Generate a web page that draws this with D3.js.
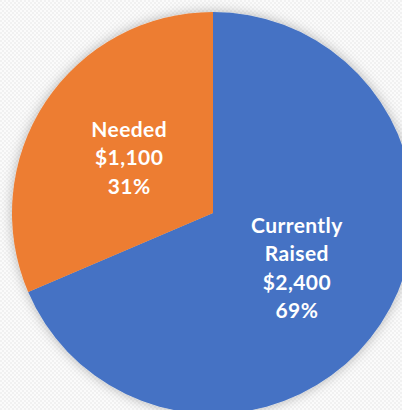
<!DOCTYPE html>
<html lang="en">
  <head>
    <meta charset="UTF-8">
    <title>Fundraising Pie</title>
    <style>
      body { margin: 0; background: #fff; }
      .label {
        fill: #fff;
        font-family: Lato, "Open Sans", sans-serif;
        font-weight: bold;
        font-size: 21px;
        letter-spacing: 0.4px;
      }
    </style>
    <script src="https://d3js.org/d3.v7.min.js"></script>
  </head>
  <body>
    <script>
      // values
      const categories = ["Currently Raised", "Needed"];
      const amounts = [2400, 1100];
      const percents = ["69%", "31%"];
      const colors = ["#4472C4", "#ED7D31"];

      const width = 402;
      const height = 410;
      const cx = 213, cy = 213, radius = 201;

      const svg = d3.select("body")
        .append("svg")
        .attr("width", width)
        .attr("height", height);

      const defs = svg.append("defs");

      // faint checker background
      const pat = defs.append("pattern")
        .attr("id", "bg")
        .attr("width", 4)
        .attr("height", 4)
        .attr("patternUnits", "userSpaceOnUse");
      pat.append("rect").attr("width", 4).attr("height", 4).attr("fill", "#fbfbfb");
      pat.append("rect").attr("width", 2).attr("height", 2).attr("fill", "#f1f1f1");
      pat.append("rect").attr("x", 2).attr("y", 2).attr("width", 2).attr("height", 2).attr("fill", "#f1f1f1");

      svg.append("rect")
        .attr("width", width)
        .attr("height", height)
        .attr("fill", "url(#bg)");

      // soft grey glow round the pie
      const f = defs.append("filter")
        .attr("id", "glow")
        .attr("x", "-20%").attr("y", "-20%")
        .attr("width", "140%").attr("height", "140%");
      f.append("feGaussianBlur").attr("in", "SourceAlpha").attr("stdDeviation", 6).attr("result", "b");
      f.append("feFlood").attr("flood-color", "#000").attr("flood-opacity", 0.28);
      f.append("feComposite").attr("in2", "b").attr("operator", "in").attr("result", "s");
      const m = f.append("feMerge");
      m.append("feMergeNode").attr("in", "s");
      m.append("feMergeNode").attr("in", "SourceGraphic");

      const data = categories.map((c, i) => ({ name: c, value: amounts[i], pct: percents[i] }));

      const pie = d3.pie().sort(null).value(d => d.value);
      const arc = d3.arc().innerRadius(0).outerRadius(radius);
      const labelArc = d3.arc().innerRadius(radius * 0.5).outerRadius(radius * 0.5);

      const g = svg.append("g")
        .attr("transform", `translate(${cx},${cy})`);

      g.append("g")
        .attr("filter", "url(#glow)")
        .selectAll("path")
        .data(pie(data))
        .enter()
        .append("path")
        .attr("d", arc)
        .attr("fill", (d, i) => colors[i]);

      const fmt = d3.format("$,");
      const lineH = 28.5;

      g.selectAll(".label")
        .data(pie(data))
        .enter()
        .append("text")
        .attr("class", "label")
        .attr("text-anchor", "middle")
        .each(function(d) {
          const lines = d.data.name.split(" ").concat([fmt(d.data.value), d.data.pct]);
          const [x, y] = labelArc.centroid(d);
          const top = y - (lines.length - 1) * lineH / 2;
          d3.select(this).selectAll("tspan")
            .data(lines)
            .enter()
            .append("tspan")
            .attr("x", x)
            .attr("y", (l, i) => top + i * lineH)
            .attr("dy", "0.35em")
            .text(l => l);
        });
    </script>
  </body>
</html>
